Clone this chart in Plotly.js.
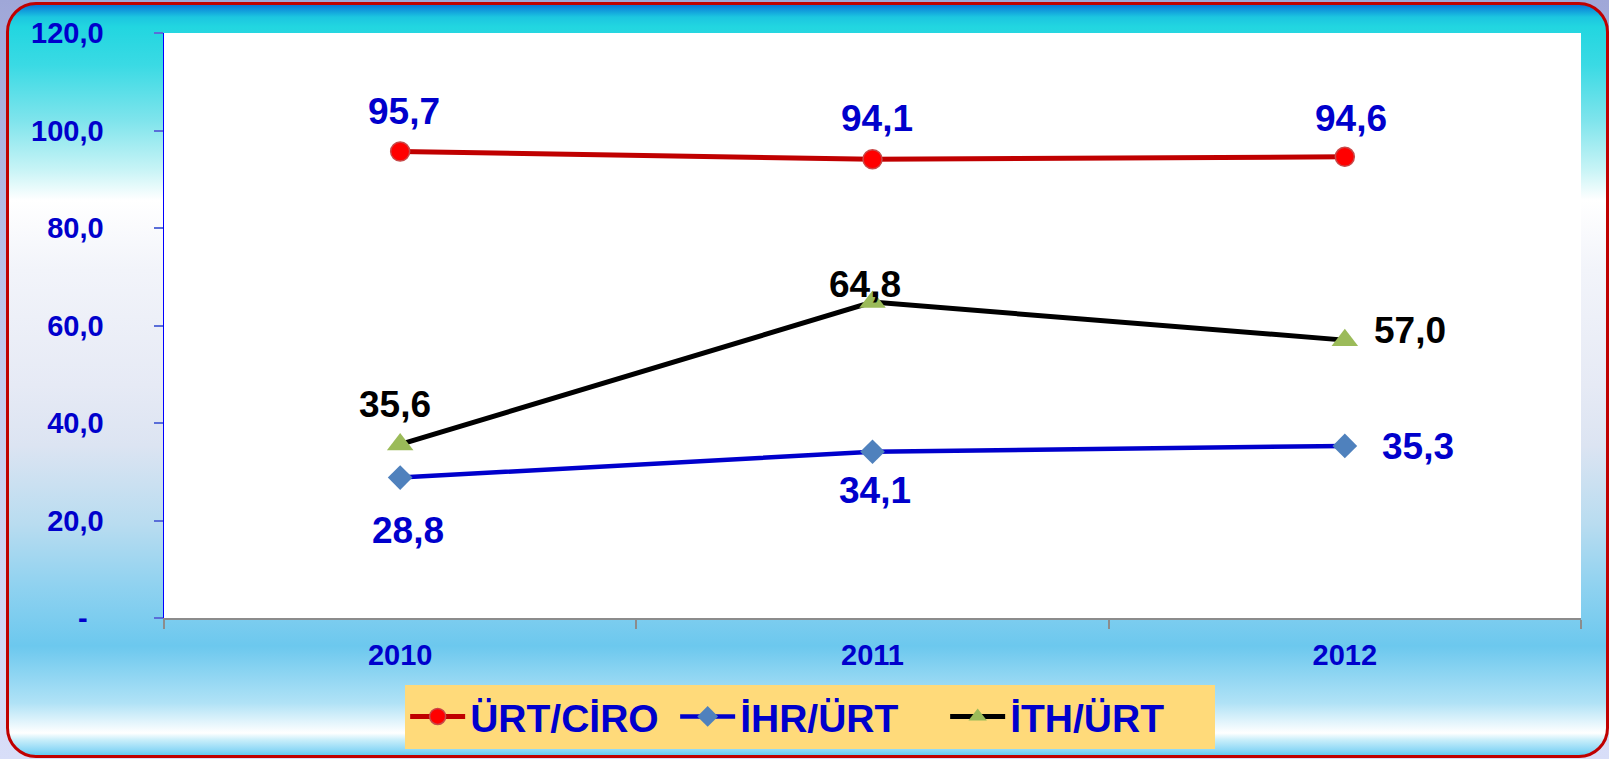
<!DOCTYPE html>
<html>
<head>
<meta charset="utf-8">
<script src="https://cdn.plot.ly/plotly-3.0.1.min.js"></script>
<style>
  html, body { margin: 0; padding: 0; }
  #wrap {
    position: relative; width: 1609px; height: 759px; overflow: hidden;
    background: linear-gradient(to bottom, #9FA7D8 0%, #C4CCEE 50%, #D8DEF8 100%);
  }
  #panel {
    position: absolute; left: 6px; top: 2px; width: 1603px; height: 756px;
    box-sizing: border-box; border: 3px solid #C00000; border-radius: 30px;
    background: linear-gradient(to bottom,
      #0878D8 0px, #1CC6E0 12px, #22D6E0 22px, #3ADAE4 60px, #7EE4EC 115px,
      #C8F4F6 165px, #FFFFFF 195px, #F2F4FA 265px, #E6EAF5 380px, #DCE4F2 440px,
      #B8DCF0 520px, #90D2F0 580px, #6CC8EE 641px, #B0E2F6 698px, #FFFFFF 728px,
      #C8EEFA 735px, #8ED8F6 745px, #40C0F0 754px);
  }
  #chart { position: absolute; left: 0; top: 0; width: 1609px; height: 759px; }
</style>
</head>
<body>
<div id="wrap">
  <div id="panel"></div>
  <div id="chart"></div>
</div>
<script>
// years on the x axis
let years = ['2010', '2011', '2012'];

// series values
let urtCiro = [95.7, 94.1, 94.6];
let ihrUrt = [28.8, 34.1, 35.3];
let ithUrt = [35.6, 64.8, 57.0];

// y axis ticks
let yTickVals = [0, 20, 40, 60, 80, 100, 120];
let yTickText = ['-\u00a0\u00a0', '20,0', '40,0', '60,0', '80,0', '100,0', '120,0'];

let blue = '#0000CC';
let fam = 'Liberation Sans, Arial, sans-serif';

let trace1 = {
  x: years, y: urtCiro, name: 'ÜRT/CİRO',
  type: 'scatter', mode: 'lines+markers',
  line: { color: '#C00000', width: 5 },
  marker: { symbol: 'circle', size: 19, color: '#FF0000', line: { color: '#C84848', width: 1.5 } }
};
let trace2 = {
  x: years, y: ihrUrt, name: 'İHR/ÜRT',
  type: 'scatter', mode: 'lines+markers',
  line: { color: '#0000CC', width: 4.5 },
  marker: { symbol: 'diamond', size: 19, color: '#4F81BD', line: { width: 0 } }
};
let trace3 = {
  x: years, y: ithUrt, name: 'İTH/ÜRT',
  type: 'scatter', mode: 'lines+markers',
  line: { color: '#000000', width: 5 },
  marker: { symbol: 'triangle-up', size: 23, color: '#9BBB59', line: { width: 0 } }
};

// data labels, offset from each point
let labelSets = [
  { vals: urtCiro, color: blue, dx: [4, 4, 6], dy: [40, 41, 38] },
  { vals: ihrUrt, color: blue, dx: [8, 2, 73], dy: [-53, -39, -1] },
  { vals: ithUrt, color: '#000000', dx: [-5, -8, 65], dy: [40, 18, 10] }
];
let annotations = [];
labelSets.forEach(function(s){
  s.vals.forEach(function(v, i){
    annotations.push({
      x: i, y: v, xref: 'x', yref: 'y',   // category index
      text: v.toFixed(1).replace('.', ','),
      showarrow: false, xanchor: 'center', yanchor: 'middle',
      xshift: s.dx[i], yshift: s.dy[i],
      font: { family: fam, size: 37, color: s.color, weight: 'bold' }
    });
  });
});

let layout = {
  width: 1609, height: 759,
  paper_bgcolor: 'rgba(0,0,0,0)',
  plot_bgcolor: '#FFFFFF',
  margin: { l: 164, r: 28, t: 33, b: 141 },
  showlegend: true,
  hovermode: false,
  xaxis: {
    type: 'category',
    categoryorder: 'array', categoryarray: years,
    range: [-0.5, 2.5],
    showgrid: false, zeroline: false,
    showline: true, linecolor: '#8C8C8C', linewidth: 2,
    ticks: 'outside', tickson: 'boundaries', ticklen: 9, tickwidth: 2, tickcolor: '#8C8C8C',
    tickfont: { family: fam, size: 29, color: blue, weight: 'bold' },
    tickangle: 0,
    ticklabelstandoff: 10
  },
  yaxis: {
    range: [0, 120],
    tickvals: yTickVals, ticktext: yTickText,
    showgrid: false, zeroline: false,
    showline: true, linecolor: '#0000FF', linewidth: 1.5,
    ticks: 'outside', ticklen: 9, tickwidth: 2, tickcolor: '#5A6ED8',
    tickfont: { family: fam, size: 29, color: blue, weight: 'bold' },
    ticklabelstandoff: 44
  },
  legend: {
    orientation: 'h',
    x: 0.456, xanchor: 'center',
    yref: 'container', y: 0.098, yanchor: 'top',
    bgcolor: '#FFDA7A',
    itemwidth: 55,
    entrywidth: 200,
    font: { family: fam, size: 39, color: blue, weight: 'bold' }
  },
  annotations: annotations
};

Plotly.newPlot('chart', [trace1, trace2, trace3], layout, { displayModeBar: false, staticPlot: true });
</script>
</body>
</html>
